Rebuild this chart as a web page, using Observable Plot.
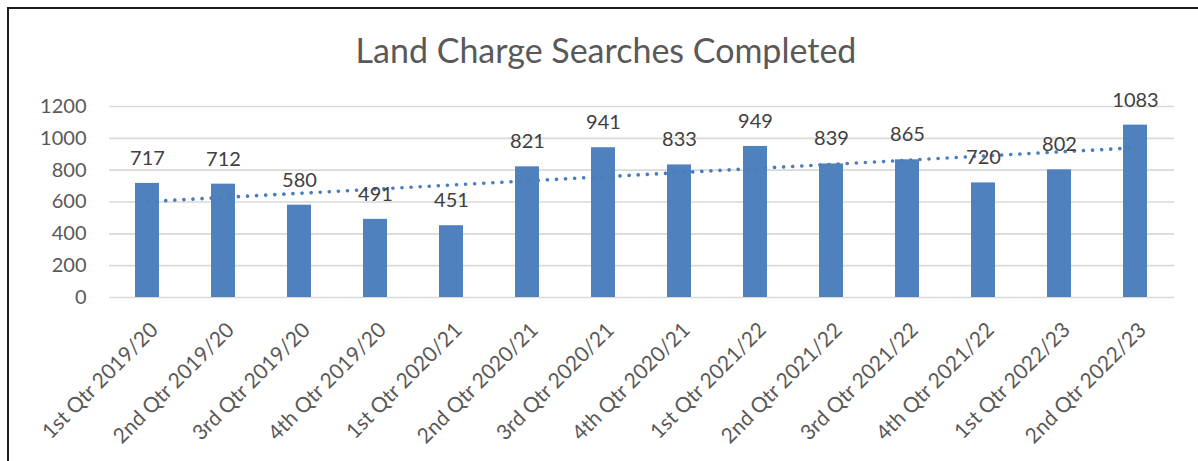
<!DOCTYPE html>
<html>
<head>
<meta charset="utf-8">
<script src="https://cdn.jsdelivr.net/npm/d3@7"></script>
<script src="https://cdn.jsdelivr.net/npm/@observablehq/plot@0.6"></script>
<style>
  html, body { margin: 0; padding: 0; background: #fff; overflow: hidden; }
  #wrap { position: relative; width: 1198px; height: 461px; overflow: hidden; }
  #frame { position: absolute; left: 7px; top: 7px; width: 1191px; height: 454px;
           border-left: 2px solid #1e1e1e; border-top: 2px solid #1e1e1e; border-right: none; border-bottom: none;
           box-sizing: border-box; }
  #title { position: absolute; left: 0; width: 1212px; top: 33px; text-align: center;
           font-family: Lato, sans-serif; font-size: 34px; line-height: 1; color: #595959; }
  #chart { position: absolute; left: 0; top: 80px; }
</style>
</head>
<body>
<div id="wrap">
  <div id="frame"></div>
  <div id="title">Land Charge Searches Completed</div>
  <div id="chart"></div>
</div>
<script>
const quarters = [
  "1st Qtr 2019/20", "2nd Qtr 2019/20", "3rd Qtr 2019/20", "4th Qtr 2019/20",
  "1st Qtr 2020/21", "2nd Qtr 2020/21", "3rd Qtr 2020/21", "4th Qtr 2020/21",
  "1st Qtr 2021/22", "2nd Qtr 2021/22", "3rd Qtr 2021/22", "4th Qtr 2021/22",
  "1st Qtr 2022/23", "2nd Qtr 2022/23"
];
const searches = [717, 712, 580, 491, 451, 821, 941, 833, 949, 839, 865, 720, 802, 1083];
const yTicks = [0, 200, 400, 600, 800, 1000, 1200];

const data = quarters.map((q, i) => ({q, v: searches[i], i: i + 1}));

// Linear least-squares trendline (as in the spreadsheet's linear trendline)
const mx = d3.mean(data, d => d.i), my = d3.mean(data, d => d.v);
const slope = d3.sum(data, d => (d.i - mx) * (d.v - my)) / d3.sum(data, d => (d.i - mx) ** 2);
const trend = data.map(d => ({q: d.q, t: my + slope * (d.i - mx)}));

const blue = "#4f81bd";

const chart = Plot.plot({
  width: 1198,
  height: 381,
  marginTop: 26,
  marginBottom: 164,
  marginLeft: 109,
  marginRight: 24,
  style: {fontFamily: "Lato, sans-serif", fontSize: "20px", color: "#595959", background: "transparent", overflow: "visible"},
  x: {domain: quarters, paddingInner: 0.68, paddingOuter: 0.34, label: null},
  y: {domain: [0, 1200], label: null},
  marks: [
    Plot.gridY(yTicks, {stroke: "#d9d9d9", strokeOpacity: 1, strokeWidth: 1.6}),
    Plot.barY(data, {x: "q", y: "v", fill: blue}),
    Plot.line(trend, {x: "q", y: "t", stroke: "#4a7ebb", strokeWidth: 3.6,
      strokeDasharray: "0.1 9", strokeLinecap: "round"}),
    Plot.text(data, {x: "q", y: "v", text: d => String(d.v), dy: -25, lineAnchor: "middle",
      fill: "#404040", fontSize: 20}),
    Plot.axisY(yTicks, {tickSize: 0, tickPadding: 23, fontSize: 20, fill: "#595959", tickFormat: d => String(d)}),
    Plot.axisX({tickSize: 0, tickRotate: -45, tickPadding: 29, fontSize: 21, fill: "#595959", dx: 7})
  ]
});
document.getElementById("chart").appendChild(chart);
</script>
</body>
</html>
